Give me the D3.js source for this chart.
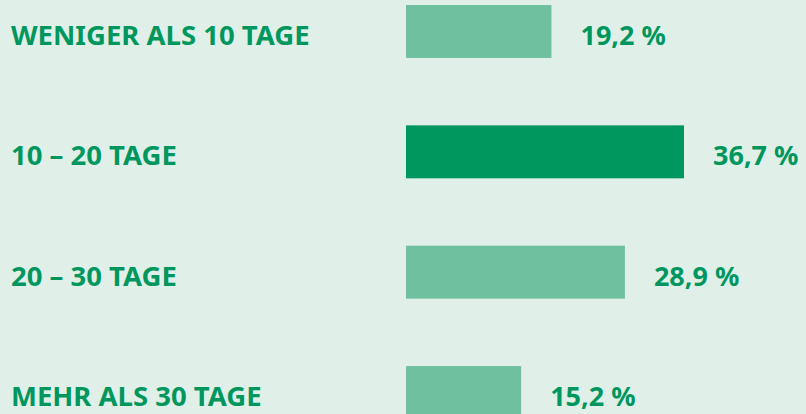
<!DOCTYPE html>
<html>
<head>
<meta charset="utf-8">
<script src="https://cdn.jsdelivr.net/npm/d3@7"></script>
<style>
  body { margin: 0; background: #e0f0e8; }
  svg { display: block; }
  .label, .value { font-family: "Noto Sans", "Open Sans", sans-serif; font-weight: 700; fill: #00975f; }
</style>
</head>
<body>
<div id="chart"></div>
<script>
// Data
var categories = ["WENIGER ALS 10 TAGE", "10 – 20 TAGE", "20 – 30 TAGE", "MEHR ALS 30 TAGE"];
var shares = [19.2, 36.7, 28.9, 15.2];
var valueLabels = ["19,2 %", "36,7 %", "28,9 %", "15,2 %"];

var svgWidth = 806;
var svgHeight = 414;

var svg = d3.select("#chart")
    .append("svg")
    .attr("width", svgWidth)
    .attr("height", svgHeight);

var rows = categories.map(function (c, i) {
    return {cat: c, share: shares[i], text: valueLabels[i]};
});

// Scales
var y = d3.scaleBand()
    .domain(categories)
    .range([5, 419])
    .paddingInner(0.56)
    .paddingOuter(0);

var x = d3.scaleLinear()
    .domain([0, 40])
    .range([406, 709]);

var maxShare = d3.max(shares);

// Bars
svg.selectAll("rect.bar")
    .data(rows)
    .enter()
    .append("rect")
    .attr("class", "bar")
    .attr("x", x(0))
    .attr("y", d => y(d.cat))
    .attr("width", d => x(d.share) - x(0))
    .attr("height", y.bandwidth())
    .attr("fill", d => d.share === maxShare ? "#00975f" : "#6fc09e");

// Category labels
svg.selectAll("text.label")
    .data(rows)
    .enter()
    .append("text")
    .attr("class", "label")
    .attr("x", 11)
    .attr("y", d => y(d.cat) + 40)
    .style("font-size", "27.5px")
    .text(d => d.cat);

// Value labels
svg.selectAll("text.value")
    .data(rows)
    .enter()
    .append("text")
    .attr("class", "value")
    .attr("x", d => x(d.share) + 29)
    .attr("y", d => y(d.cat) + 40)
    .style("font-size", "27px")
    .text(d => d.text);
</script>
</body>
</html>
